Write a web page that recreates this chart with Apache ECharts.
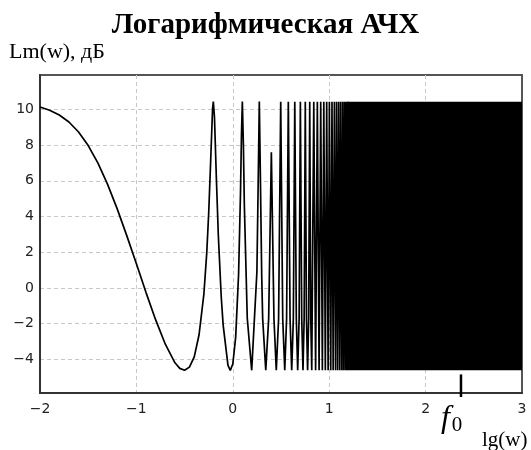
<!DOCTYPE html>
<html><head><meta charset="utf-8">
<script src="https://cdn.jsdelivr.net/npm/echarts@6/dist/echarts.min.js"></script>
<style>html,body{margin:0;padding:0;background:#fff}#c{width:531px;height:450px}</style>
</head><body><div id="c"></div>
<script>
// lg(w) values along the curve and Lm(w) in dB
const lgW = [-2,-1.9,-1.8,-1.7,-1.6,-1.5,-1.4,-1.3,-1.2,-1.1,-1.0,-0.9,-0.8,-0.7,-0.6,-0.55,-0.5,-0.45,-0.4,-0.35,-0.3,-0.27,-0.25,-0.23,-0.21,-0.202,-0.19,-0.17,-0.15,-0.12,-0.1,-0.05,-0.026,0,0.03,0.06,0.08,0.09,0.099,0.11,0.12,0.15,0.196,0.25,0.265,0.275,0.285,0.3,0.310,0.342,0.372,0.400,0.427,0.451,0.475,0.497,0.518,0.539,0.558,0.576,0.594,0.611,0.628,0.643,0.659,0.673,0.688,0.701,0.715,0.728,0.740,0.752,0.764,0.776,0.787,0.798,0.809,0.819,0.840,0.859,0.877,0.895,0.912,0.929,0.944,0.960,0.974,0.989,1.002,1.016,1.029,1.041,1.054,1.066,1.077,1.088,1.099,1.110,1.120,1.131,1.141,1.150,1.160,1.169,1.178,1.187,1.196];
const lmDb = [10.13,9.95,9.68,9.29,8.73,7.97,7.00,5.81,4.44,2.93,1.35,-0.26,-1.79,-3.15,-4.19,-4.50,-4.61,-4.43,-3.86,-2.62,-0.34,1.98,4.20,7.04,10.02,10.43,9.54,6.07,2.92,-0.49,-2.08,-4.33,-4.61,-4.26,-2.74,0.77,5.36,8.59,10.44,7.98,4.58,-1.68,-4.61,0.90,6.49,10.44,6.68,0.66,-1.73,-4.61,-1.73,7.6,-1.73,-4.61,-1.73,10.42,-1.73,-4.61,-1.73,10.42,-1.73,-4.61,-1.73,10.42,-1.73,-4.61,-1.73,10.42,-1.73,-4.61,-1.73,10.42,-1.73,-4.61,-1.73,10.42,-1.73,-4.61,10.42,-4.61,10.42,-4.61,10.42,-4.61,10.42,-4.61,10.42,-4.61,10.42,-4.61,10.42,-4.61,10.42,-4.61,10.42,-4.61,10.42,-4.61,10.42,-4.61,10.42,-4.61,10.42,-4.61,10.42,-4.61,10.42];
// dense (unresolved) oscillation region: lg(w) from..to, Lm min..max
const bandLgW = [1.19, 3];
const bandLm = [-4.61, 10.42];
const xTicks = [-2,-1,0,1,2,3];
const yTicks = [-4,-2,0,2,4,6,8,10];
const yRange = [-5.88, 11.92];
const f0Lg = 2.367;

const chart = echarts.init(document.getElementById('c'), null, {renderer:'canvas'});
const curve = lgW.map((x,i)=>[x, lmDb[i]]);
const fmt = v => String(v).replace('-', '\u2212');
const gridDash = {color:'#c8c8c8', width:1, type:[4,3]};
chart.setOption({
  animation:false,
  title:{text:'Логарифмическая АЧХ', left:'center', top:6,
    textStyle:{fontFamily:'Liberation Serif', fontWeight:'bold', fontSize:29, color:'#000'}},
  grid:{left:40, right:9, top:75, bottom:57, show:true, borderColor:'#555', borderWidth:2, containLabel:false},
  xAxis:{type:'value', min:xTicks[0], max:xTicks[xTicks.length-1], interval:1,
    axisLine:{show:true, onZero:false, lineStyle:{color:'#333', width:2}},
    axisTick:{show:false},
    splitLine:{show:true, showMinLine:false, showMaxLine:false, lineStyle:gridDash},
    axisLabel:{formatter:fmt, color:'#222', fontFamily:'DejaVu Sans', fontSize:14, margin:9}},
  yAxis:{type:'value', min:yRange[0], max:yRange[1],
    axisLine:{show:true, onZero:false, lineStyle:{color:'#333', width:2}},
    axisTick:{show:false, customValues:yTicks},
    splitLine:{show:true, lineStyle:gridDash},
    axisLabel:{customValues:yTicks, formatter:fmt, color:'#222', fontFamily:'DejaVu Sans', fontSize:14, margin:6}},
  series:[{type:'line', data:curve, showSymbol:false, symbol:'none', sampling:null,
    lineStyle:{color:'#000', width:1.7}, z:3,
    markArea:{silent:true, itemStyle:{color:'#000', opacity:1},
      data:[[{coord:[bandLgW[0], bandLm[0]]},{coord:[bandLgW[1], bandLm[1]]}]]}}]
});
const pTop = chart.convertToPixel({gridIndex:0}, [f0Lg, -4.84]);
const pAxis = chart.convertToPixel({gridIndex:0}, [f0Lg, yRange[0]]);
chart.setOption({graphic:[
  {type:'text', left:9, top:41, style:{text:'Lm(w), дБ', font:'22px "Liberation Serif"', fill:'#000'}},
  {type:'text', left:482, top:430, style:{text:'lg(w)', font:'21px "Liberation Serif"', fill:'#000'}},
  {type:'line', shape:{x1:pTop[0], y1:pTop[1], x2:pAxis[0], y2:pAxis[1]+4}, style:{stroke:'#000', lineWidth:2.5}, z:10},
  {type:'text', x:pTop[0]-20, y:pAxis[1]+8, style:{text:'{f|f}{s|0}', rich:{
     f:{font:'italic 32px "Liberation Serif"', fill:'#000'},
     s:{font:'21px "Liberation Serif"', fill:'#000', verticalAlign:'bottom', padding:[14,0,0,2]}}}, z:10}
]});
</script></body></html>
